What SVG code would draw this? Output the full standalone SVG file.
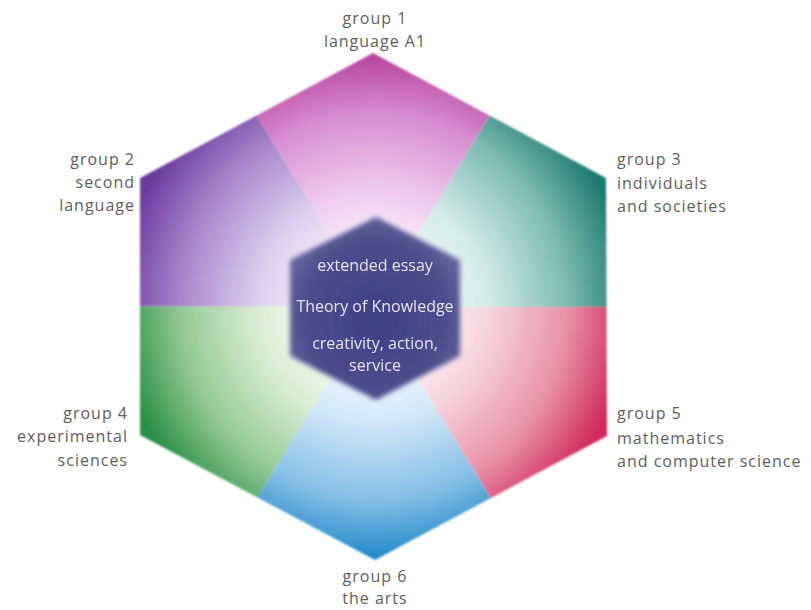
<svg xmlns="http://www.w3.org/2000/svg" width="811" height="610" viewBox="0 0 811 610">
<style>
.lbl{font-family:"Open Sans","Liberation Sans",sans-serif;font-size:16px;fill:#5e5e5e;letter-spacing:1px}
.mid{text-anchor:middle}
.end{text-anchor:end}
.core{font-family:"Open Sans","Liberation Sans",sans-serif;font-size:16px;fill:#e4e4f0;text-anchor:middle}
</style>
<defs>
<radialGradient id="gTop" gradientUnits="userSpaceOnUse" cx="374" cy="307" r="256">
<stop offset="0.2" stop-color="#fdf6fd"/><stop offset="0.45" stop-color="#efcdef"/><stop offset="0.75" stop-color="#d78fd0"/><stop offset="1" stop-color="#b5409a"/></radialGradient>
<radialGradient id="gUL" gradientUnits="userSpaceOnUse" cx="374" cy="307" r="256">
<stop offset="0.2" stop-color="#faf6fd"/><stop offset="0.45" stop-color="#ddd0ee"/><stop offset="0.75" stop-color="#a888cc"/><stop offset="1" stop-color="#6c3c9e"/></radialGradient>
<radialGradient id="gUR" gradientUnits="userSpaceOnUse" cx="374" cy="307" r="256">
<stop offset="0.2" stop-color="#f6fbfa"/><stop offset="0.45" stop-color="#d2ebe6"/><stop offset="0.75" stop-color="#7fbcb2"/><stop offset="1" stop-color="#1f7a70"/></radialGradient>
<radialGradient id="gLL" gradientUnits="userSpaceOnUse" cx="374" cy="307" r="256">
<stop offset="0.2" stop-color="#f8fbf4"/><stop offset="0.45" stop-color="#dcefd6"/><stop offset="0.75" stop-color="#96ca94"/><stop offset="1" stop-color="#2a8f48"/></radialGradient>
<radialGradient id="gB" gradientUnits="userSpaceOnUse" cx="374" cy="307" r="256">
<stop offset="0.2" stop-color="#f6fbfe"/><stop offset="0.45" stop-color="#d2e8f8"/><stop offset="0.75" stop-color="#86bfe6"/><stop offset="1" stop-color="#1a85c5"/></radialGradient>
<radialGradient id="gLR" gradientUnits="userSpaceOnUse" cx="374" cy="307" r="256">
<stop offset="0.2" stop-color="#fdf6f8"/><stop offset="0.45" stop-color="#f6d4de"/><stop offset="0.75" stop-color="#e893aa"/><stop offset="1" stop-color="#d02a5a"/></radialGradient>
<radialGradient id="gCore" cx="0.5" cy="0.55" r="0.6">
<stop offset="0" stop-color="#3c3e82"/><stop offset="0.7" stop-color="#4c4e8c"/><stop offset="1" stop-color="#6a6aa2"/></radialGradient>
<filter id="soft" x="-10%" y="-10%" width="120%" height="120%"><feGaussianBlur stdDeviation="2.8"/></filter>
<filter id="edge" x="-5%" y="-5%" width="110%" height="110%"><feGaussianBlur stdDeviation="0.8"/></filter>
<filter id="tsoft"><feGaussianBlur stdDeviation="0.35"/></filter>
</defs>
<rect width="811" height="610" fill="#ffffff"/>
<g filter="url(#edge)">
<g id="group1">
<polygon points="373,53 489.5,115.5 374,307 256.5,115.5" fill="url(#gTop)"/>
</g>
<g id="group2">
<polygon points="140,178 256.5,115.5 374,307 140,306.5" fill="url(#gUL)"/>
</g>
<g id="group3">
<polygon points="606,178 606.5,307 374,307 489.5,115.5" fill="url(#gUR)"/>
</g>
<g id="group4">
<polygon points="140,435 140,306.5 374,307 257.5,497.5" fill="url(#gLL)"/>
</g>
<g id="group6">
<polygon points="375,560 257.5,497.5 374,307 491,498" fill="url(#gB)"/>
</g>
<g id="group5">
<polygon points="607,436 491,498 374,307 606.5,307" fill="url(#gLR)"/>
</g>
</g>
<g id="core">
<polygon points="376,217 460,260 460,356 376,400 290,356 290,260" fill="url(#gCore)" filter="url(#soft)"/>
<g filter="url(#tsoft)">
<text class="core" x="375" y="271">extended essay</text>
<text class="core" x="375" y="312">Theory of Knowledge</text>
<text class="core" x="375" y="349">creativity, action,</text>
<text class="core" x="375" y="371">service</text>
</g>
</g>
<g id="labels">
<text class="lbl mid" x="375" y="24">group 1</text>
<text class="lbl mid" x="375" y="47">language A1</text>
<text class="lbl end" x="135" y="165">group 2</text>
<text class="lbl end" x="135" y="188">second</text>
<text class="lbl end" x="135" y="211">language</text>
<text class="lbl" x="617" y="165">group 3</text>
<text class="lbl" x="617" y="189">individuals</text>
<text class="lbl" x="617" y="212">and societies</text>
<text class="lbl end" x="128" y="419">group 4</text>
<text class="lbl end" x="128" y="442">experimental</text>
<text class="lbl end" x="128" y="466">sciences</text>
<text class="lbl" x="617" y="419">group 5</text>
<text class="lbl" x="617" y="444">mathematics</text>
<text class="lbl" x="617" y="467">and computer science</text>
<text class="lbl mid" x="375" y="582">group 6</text>
<text class="lbl mid" x="375" y="604">the arts</text>
</g>
<g id="connectors"/>
</svg>
